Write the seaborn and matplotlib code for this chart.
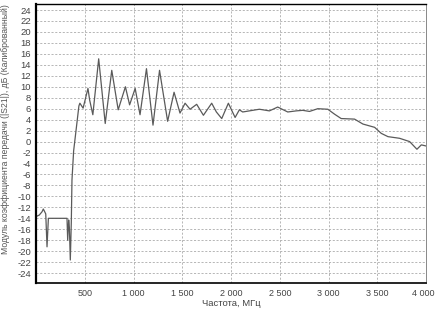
import matplotlib
matplotlib.use("Agg")
import matplotlib.pyplot as plt
import matplotlib.ticker as mticker
import matplotlib.transforms as mtransforms
import seaborn as sns
import pandas as pd

freq_mhz = [10, 34, 62, 75, 92, 100, 113, 127, 220, 318, 325, 335, 342, 352, 362, 369,
            386, 417, 440, 450, 483, 533, 550, 583, 643, 710, 777, 843, 917, 960, 1017,
            1067, 1133, 1200, 1267, 1350, 1416, 1477, 1529, 1580, 1648, 1717, 1802, 1850,
            1905, 1973, 2042, 2086, 2120, 2188, 2291, 2394, 2479, 2582, 2668, 2736, 2805,
            2890, 2993, 3062, 3130, 3267, 3353, 3473, 3541, 3610, 3729, 3832, 3907, 3952, 4000]
s21_db = [-13.6, -13.4, -12.8, -12.3, -12.9, -13.2, -19.2, -14.0, -14.0, -14.0, -18.0, -14.3,
          -15.6, -21.6, -14.8, -7.0, -1.7, 3.0, 6.5, 7.0, 6.1, 9.7, 7.6, 4.9, 15.1, 3.3, 13.0,
          5.8, 10.0, 6.7, 9.7, 4.9, 13.3, 3.0, 13.0, 3.7, 9.0, 5.2, 7.0, 5.9, 6.8, 4.8, 7.0, 5.4,
          4.2, 7.0, 4.4, 5.8, 5.4, 5.6, 5.9, 5.6, 6.3, 5.4, 5.6, 5.7, 5.5, 6.0, 5.9, 5.0, 4.2,
          4.1, 3.2, 2.6, 1.5, 0.9, 0.6, 0.0, -1.4, -0.6, -0.8]

x_ticks = [500, 1000, 1500, 2000, 2500, 3000, 3500, 4000]
y_ticks = list(range(-24, 25, 2))
x_label = "Частота, МГц"
y_label = "Модуль коэффициента передачи (|S21|), дБ (Калиброванный)"

df = pd.DataFrame({"f": freq_mhz, "v": s21_db})

sns.set_style("white")
plt.rcParams["font.family"] = ["Liberation Sans", "DejaVu Sans"]

fig = plt.figure(figsize=(4.36, 3.14), dpi=100)
ax = fig.add_axes([36 / 436, 1 - 283 / 314, 390 / 436, 279 / 314])

for yv in y_ticks:
    ax.axhline(yv, color="#ababab", lw=0.6, ls=(0, (2.5, 2)), zorder=0)
for xv in x_ticks[:-1]:
    ax.axvline(xv, color="#ababab", lw=0.6, ls=(0, (2.5, 2)), zorder=0)

sns.lineplot(data=df, x="f", y="v", ax=ax, color="#5a5a5a", lw=0.9, estimator=None, sort=False)

ax.set_xlim(0, 4000)
ax.set_ylim(-25.8, 25.1)
ax.set_xticks(x_ticks)
ax.set_xticklabels([f"{t:,}".replace(",", " ") for t in x_ticks])
ax.xaxis.set_minor_locator(mticker.MultipleLocator(100))
ax.set_yticks(y_ticks)
ax.set_yticklabels([str(t) for t in y_ticks])

ax.tick_params(axis="x", which="major", direction="inout", length=4, width=0.6,
               labelsize=6.5, labelcolor="#444444", color="#555555", pad=2)
ax.tick_params(axis="x", which="minor", direction="in", length=2, width=0.5, color="#777777")
ax.tick_params(axis="y", which="major", direction="out", length=2, width=0.5,
               labelsize=6.8, labelcolor="#444444", color="#999999", pad=1.5)
last = ax.get_xticklabels()[-1]
last.set_transform(last.get_transform() + mtransforms.ScaledTranslation(-3 / 100, 0, fig.dpi_scale_trans))

ax.set_xlabel(x_label, fontsize=6.8, color="#444444", labelpad=1)
ax.set_ylabel(y_label, fontsize=6.2, color="#555555")
ax.yaxis.set_label_coords(-0.066, 0.55)

for side, lw, col in [("left", 1.6, "black"), ("bottom", 1.2, "black"),
                      ("top", 1.0, "black"), ("right", 0.7, "#888888")]:
    ax.spines[side].set_visible(True)
    ax.spines[side].set_linewidth(lw)
    ax.spines[side].set_color(col)

fig.savefig("out.png", dpi=100)
